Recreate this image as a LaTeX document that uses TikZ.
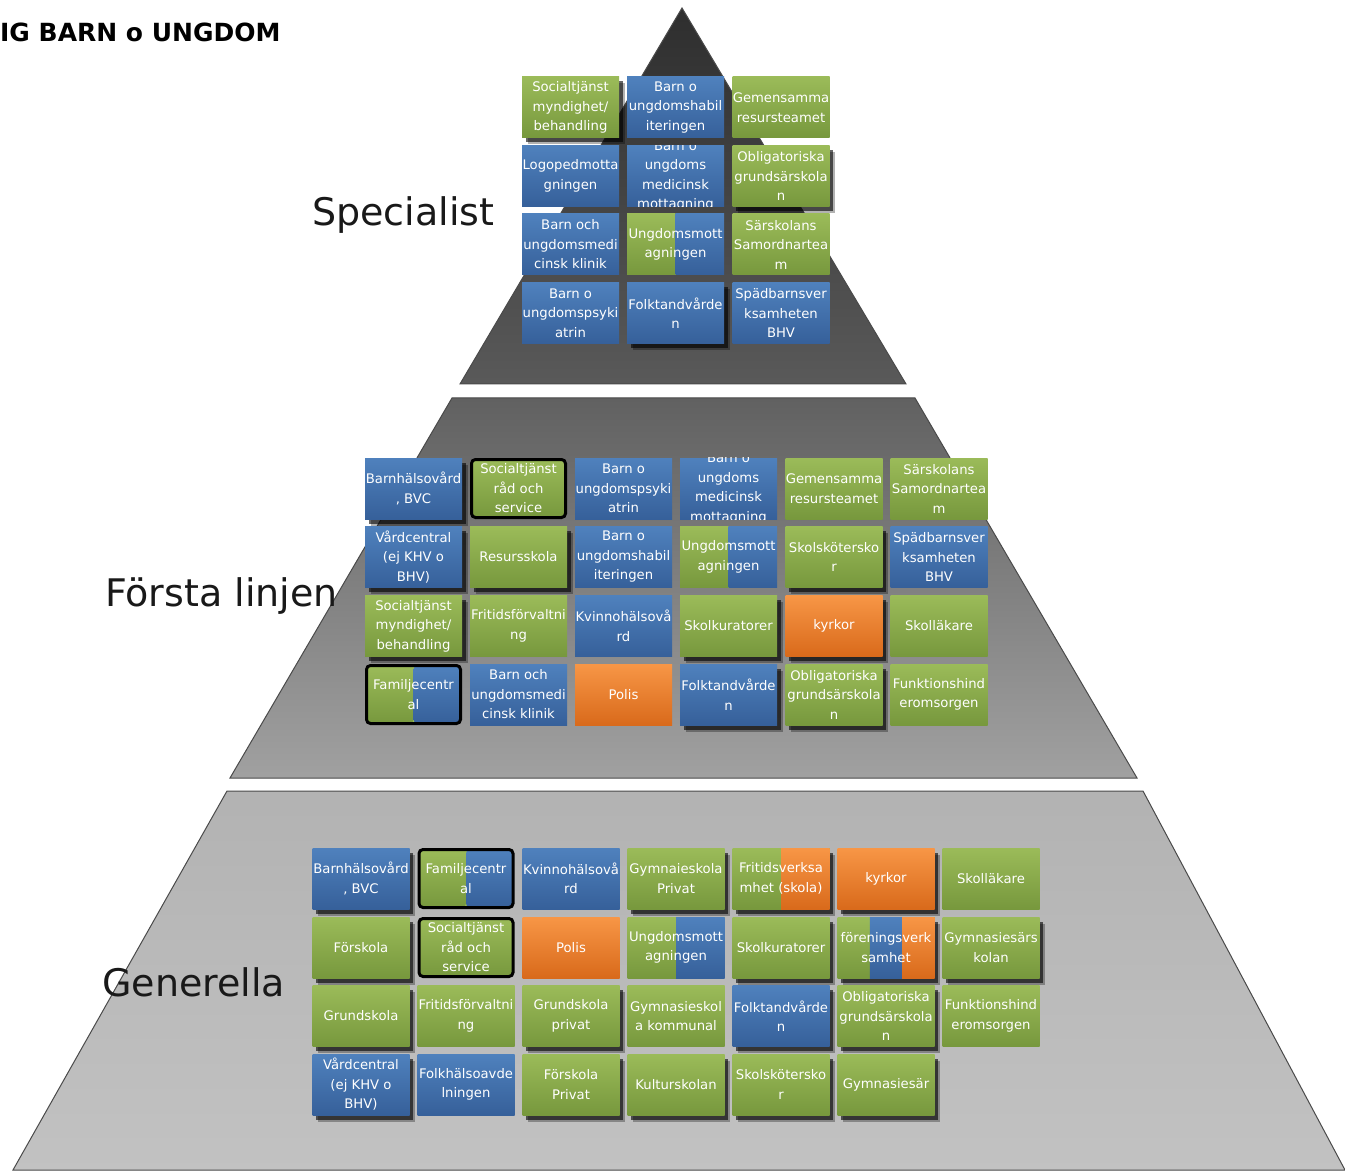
\documentclass[tikz,border=0pt]{standalone}
\usepackage{fontspec}
\setmainfont{DejaVu Sans}
\usetikzlibrary{calc,shadows}
\definecolor{greenT}{HTML}{9BBB59}
\definecolor{greenB}{HTML}{77983D}
\definecolor{blueT}{HTML}{4F81BD}
\definecolor{blueB}{HTML}{36609A}
\definecolor{orangeT}{HTML}{F79646}
\definecolor{orangeB}{HTML}{D96A1B}
\definecolor{bandline}{HTML}{4A4A4A}
\newcommand{\tilefont}{\fontsize{13.2}{19.5}\selectfont}

\tikzset{
  tile/.style={rectangle, minimum width=97pt, minimum height=61pt, inner sep=0pt,
    align=center, text=white, font=\tilefont},
  tiletext/.style={inner sep=0pt, align=center, text=white, font=\tilefont},
  gtile/.style={tile, top color=greenT, bottom color=greenB},
  btile/.style={tile, top color=blueT, bottom color=blueB},
  otile/.style={tile, top color=orangeT, bottom color=orangeB},
  gbtile/.style={tile, fill=greenT, path picture={
      \shade[top color=greenT, bottom color=greenB] (path picture bounding box.north west) rectangle (path picture bounding box.south);
      \shade[top color=blueT, bottom color=blueB] (path picture bounding box.north) rectangle (path picture bounding box.south east);}},
  gotile/.style={tile, fill=greenT, path picture={
      \shade[top color=greenT, bottom color=greenB] (path picture bounding box.north west) rectangle (path picture bounding box.south);
      \shade[top color=orangeT, bottom color=orangeB] (path picture bounding box.north) rectangle (path picture bounding box.south east);}},
  gbotile/.style={tile, fill=greenT, path picture={
      \shade[top color=greenT, bottom color=greenB] (path picture bounding box.north west) rectangle ($(path picture bounding box.south west)!1/3!(path picture bounding box.south east)$);
      \shade[top color=blueT, bottom color=blueB] ($(path picture bounding box.north west)!1/3!(path picture bounding box.north east)$) rectangle ($(path picture bounding box.south west)!2/3!(path picture bounding box.south east)$);
      \shade[top color=orangeT, bottom color=orangeB] ($(path picture bounding box.north west)!2/3!(path picture bounding box.north east)$) rectangle (path picture bounding box.south east);}},
  shadowed/.style={drop shadow={shadow xshift=5.5pt, shadow yshift=-6.5pt, fill=black, opacity=0.3},
    drop shadow={shadow xshift=3.5pt, shadow yshift=-4.5pt, fill=black, opacity=0.6}},
  ringed/.style={draw=black, line width=3pt, rounded corners=4pt, minimum width=94pt, minimum height=58pt},
  bandlabel/.style={anchor=base west, inner sep=0pt, text=black!90, font=\fontsize{38}{40}\selectfont}
}

\begin{document}
\begin{tikzpicture}[x=1pt, y=-1pt]
  \useasboundingbox (0,0) rectangle (1345,1174);

  % Pyramid bands
  \shade[top color=black!82, bottom color=black!65, draw=bandline, line width=1pt]
    (682,8) -- (906,384) -- (460,384) -- cycle;
  \shade[top color=black!62, bottom color=black!37, draw=bandline, line width=1pt]
    (452,398) -- (915,398) -- (1137,778) -- (230,778) -- cycle;
  \shade[top color=black!30, bottom color=black!24, draw=bandline, line width=1pt]
    (227,791) -- (1143,791) -- (1345,1170) -- (13,1170) -- cycle;

  \node[anchor=base west, inner sep=0pt, font=\bfseries\fontsize{25}{28}\selectfont] (title) at (0,42) {IG BARN o UNGDOM};

  % Specialist
  \node[bandlabel] (spec) at (312,226) {Specialist};
  \node[gtile, shadowed] (sp11) at (570.5,107.5) {Socialtjänst\\myndighet/\\behandling};
  \node[btile] (sp12) at (675.5,107.5) {Barn o\\ungdomshabil\\iteringen};
  \node[gtile] (sp13) at (781,107.5) {Gemensamma\\resursteamet};
  \node[btile] (sp21) at (570.5,176) {Logopedmotta\\gningen};
  \node[btile] (sp22) at (675.5,176) {};
  \begin{scope}
    \clip (sp22.north west) rectangle (sp22.south east);
    \node[tiletext] (sp22t) at (sp22.center) {Barn o\\ungdoms\\medicinsk\\mottagning};
  \end{scope}
  \node[gtile, shadowed] (sp23) at (781,176) {Obligatoriska\\grundsärskola\\n};
  \node[btile] (sp31) at (570.5,244.5) {Barn och\\ungdomsmedi\\cinsk klinik};
  \node[gbtile] (sp32) at (675.5,244.5) {Ungdomsmott\\agningen};
  \node[gtile] (sp33) at (781,244.5) {Särskolans\\Samordnartea\\m};
  \node[btile] (sp41) at (570.5,313) {Barn o\\ungdomspsyki\\atrin};
  \node[btile, shadowed] (sp42) at (675.5,313) {Folktandvårde\\n};
  \node[btile] (sp43) at (781,313) {Spädbarnsver\\ksamheten\\BHV};

  % Första linjen
  \node[bandlabel] (first) at (105,606) {Första linjen};
  \node[btile, shadowed] (fl11) at (413.5,488.5) {Barnhälsovård\\, BVC};
  \node[gtile, ringed] (fl12) at (518.5,488.5) {Socialtjänst\\råd och\\service};
  \node[btile] (fl13) at (623.5,488.5) {Barn o\\ungdomspsyki\\atrin};
  \node[btile] (fl14) at (728.5,488.5) {};
  \begin{scope}
    \clip (fl14.north west) rectangle (fl14.south east);
    \node[tiletext] (fl14t) at (fl14.center) {Barn o\\ungdoms\\medicinsk\\mottagning};
  \end{scope}
  \node[gtile] (fl15) at (834,488.5) {Gemensamma\\resursteamet};
  \node[gtile] (fl16) at (939,488.5) {Särskolans\\Samordnartea\\m};
  \node[btile, shadowed] (fl21) at (413.5,557) {Vårdcentral\\(ej KHV o\\BHV)};
  \node[gtile, shadowed] (fl22) at (518.5,557) {Resursskola};
  \node[btile] (fl23) at (623.5,557) {Barn o\\ungdomshabil\\iteringen};
  \node[gbtile] (fl24) at (728.5,557) {Ungdomsmott\\agningen};
  \node[gtile, shadowed] (fl25) at (834,557) {Skolsk\"otersko\\r};
  \node[btile] (fl26) at (939,557) {Spädbarnsver\\ksamheten\\BHV};
  \node[gtile, shadowed] (fl31) at (413.5,626) {Socialtjänst\\myndighet/\\behandling};
  \node[gtile] (fl32) at (518.5,626) {Fritidsförvaltni\\ng};
  \node[btile] (fl33) at (623.5,626) {Kvinnohälsovå\\rd};
  \node[gtile, shadowed] (fl34) at (728.5,626) {Skolkuratorer};
  \node[otile, shadowed] (fl35) at (834,626) {kyrkor};
  \node[gtile] (fl36) at (939,626) {Skolläkare};
  \node[gbtile, ringed] (fl41) at (413.5,694.5) {Familjecentr\\al};
  \node[btile] (fl42) at (518.5,694.5) {Barn och\\ungdomsmedi\\cinsk klinik};
  \node[otile] (fl43) at (623.5,694.5) {Polis};
  \node[btile, shadowed] (fl44) at (728.5,694.5) {Folktandvårde\\n};
  \node[gtile, shadowed] (fl45) at (834,694.5) {Obligatoriska\\grundsärskola\\n};
  \node[gtile] (fl46) at (939,694.5) {Funktionshind\\eromsorgen};

  % Generella
  \node[bandlabel] (general) at (102,996) {Generella};
  \node[btile, shadowed] (ge11) at (361,878.5) {Barnhälsovård\\, BVC};
  \node[gbtile, ringed] (ge12) at (466,878.5) {Familjecentr\\al};
  \node[btile] (ge13) at (571,878.5) {Kvinnohälsovå\\rd};
  \node[gtile, shadowed] (ge14) at (676,878.5) {Gymnaieskola\\Privat};
  \node[gotile, shadowed] (ge15) at (781,878.5) {Fritidsverksa\\mhet (skola)};
  \node[otile, shadowed] (ge16) at (886,878.5) {kyrkor};
  \node[gtile] (ge17) at (991,878.5) {Skolläkare};
  \node[gtile, shadowed] (ge21) at (361,947.5) {Förskola};
  \node[gtile, ringed] (ge22) at (466,947.5) {Socialtjänst\\råd och\\service};
  \node[otile] (ge23) at (571,947.5) {Polis};
  \node[gbtile] (ge24) at (676,947.5) {Ungdomsmott\\agningen};
  \node[gtile, shadowed] (ge25) at (781,947.5) {Skolkuratorer};
  \node[gbotile, shadowed] (ge26) at (886,947.5) {föreningsverk\\samhet};
  \node[gtile, shadowed] (ge27) at (991,947.5) {Gymnasiesärs\\kolan};
  \node[gtile, shadowed] (ge31) at (361,1016) {Grundskola};
  \node[gtile] (ge32) at (466,1016) {Fritidsförvaltni\\ng};
  \node[gtile, shadowed] (ge33) at (571,1016) {Grundskola\\privat};
  \node[gtile] (ge34) at (676,1016) {Gymnasieskol\\a kommunal};
  \node[btile, shadowed] (ge35) at (781,1016) {Folktandvårde\\n};
  \node[gtile, shadowed] (ge36) at (886,1016) {Obligatoriska\\grundsärskola\\n};
  \node[gtile] (ge37) at (991,1016) {Funktionshind\\eromsorgen};
  \node[btile, shadowed] (ge41) at (361,1084.5) {Vårdcentral\\(ej KHV o\\BHV)};
  \node[btile] (ge42) at (466,1084.5) {Folkhälsoavde\\lningen};
  \node[gtile, shadowed] (ge43) at (571,1084.5) {Förskola\\Privat};
  \node[gtile, shadowed] (ge44) at (676,1084.5) {Kulturskolan};
  \node[gtile, shadowed] (ge45) at (781,1084.5) {Skolsk\"otersko\\r};
  \node[gtile, shadowed] (ge46) at (886,1084.5) {Gymnasiesär};
\end{tikzpicture}
\end{document}
